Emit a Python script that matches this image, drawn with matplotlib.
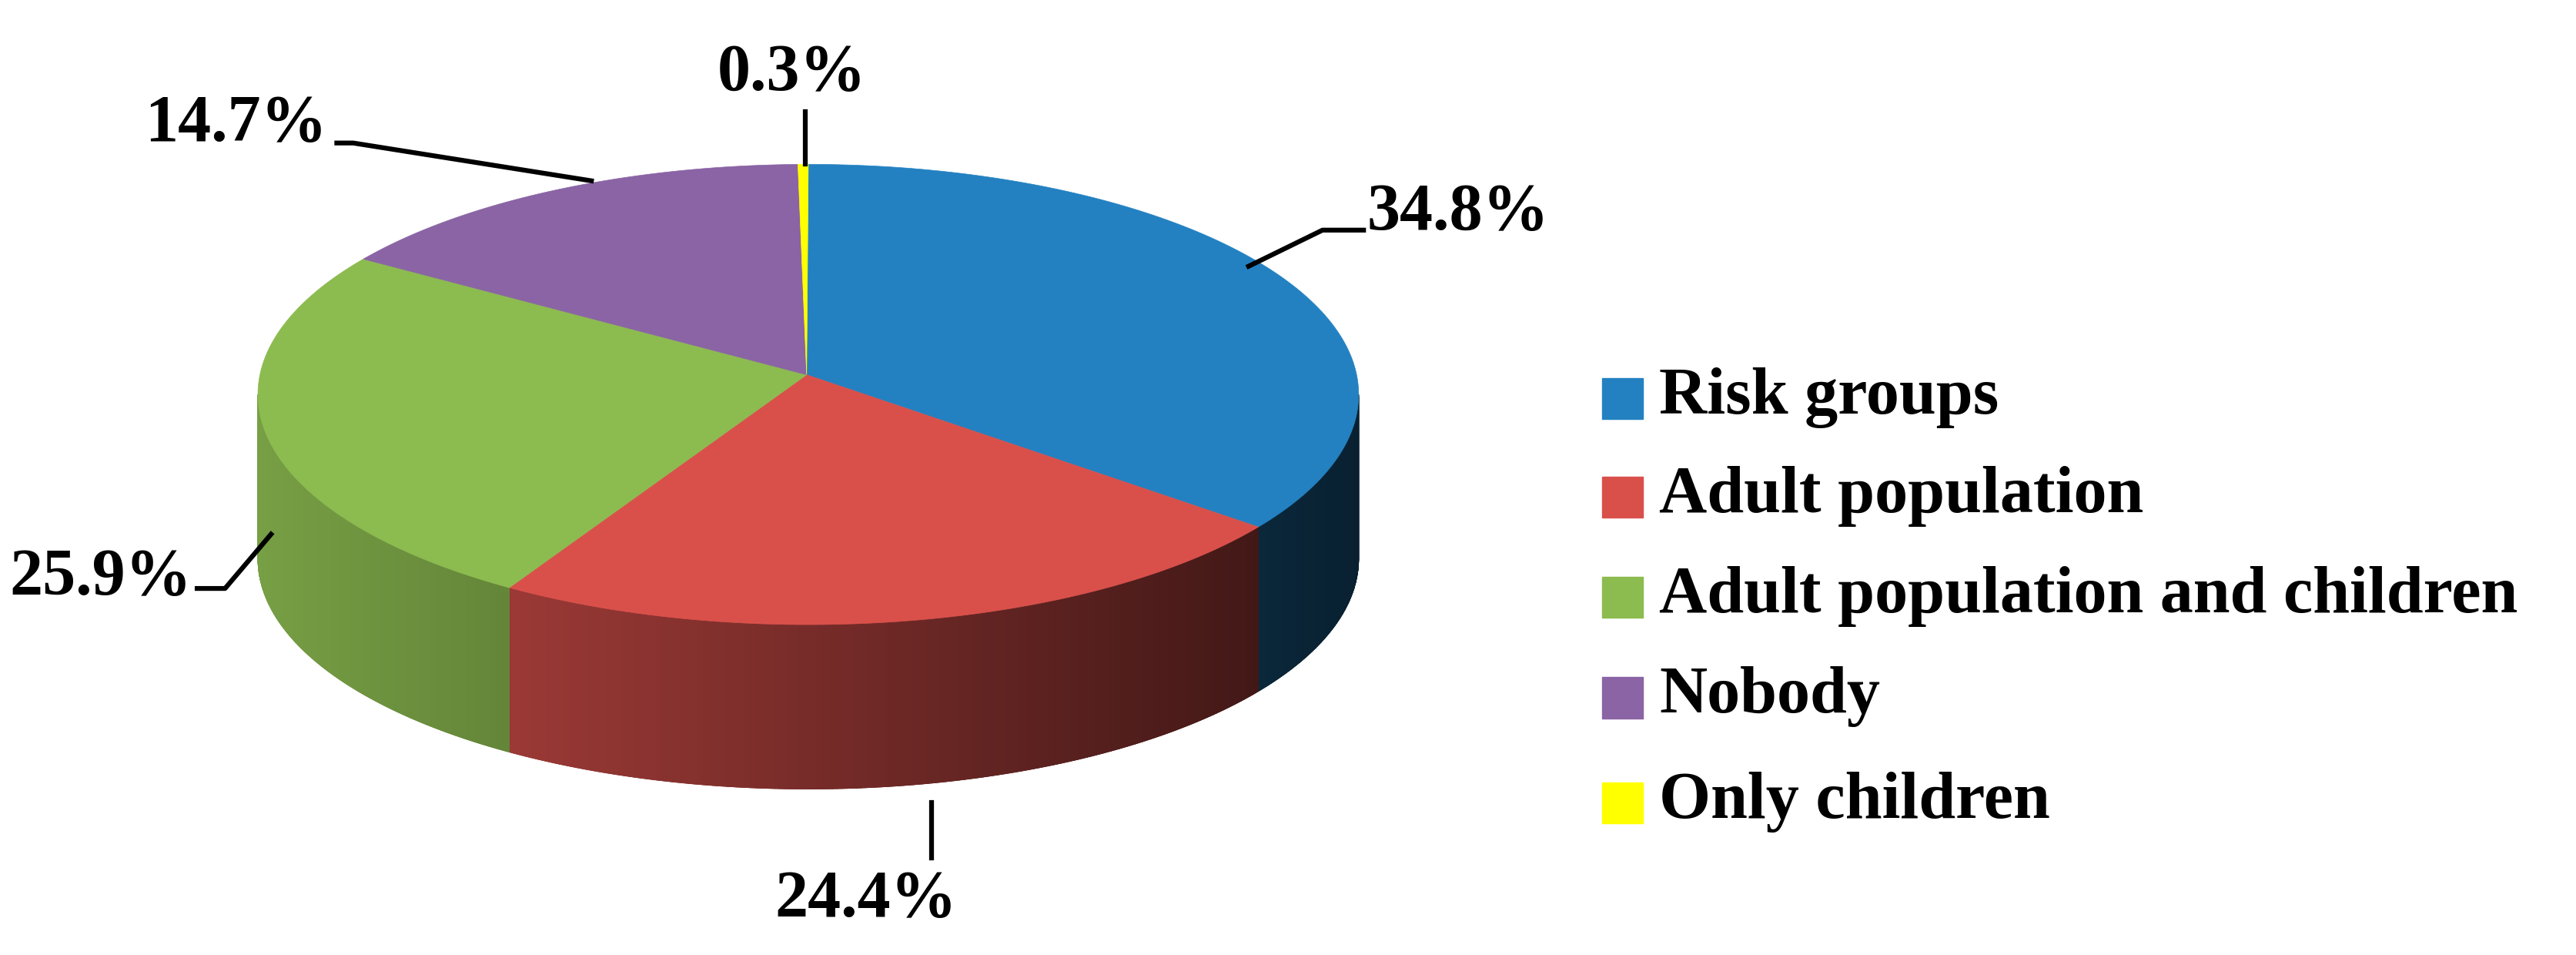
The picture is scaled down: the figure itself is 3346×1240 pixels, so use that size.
import numpy as np
import matplotlib
matplotlib.use("Agg")
import matplotlib.pyplot as plt
from matplotlib.colors import to_rgb

categories = ["Risk groups", "Adult population", "Adult population and children", "Nobody", "Only children"]
values = [34.8, 24.4, 25.9, 14.7, 0.3]
labels = ["34.8%", "24.4%", "25.9%", "14.7%", "0.3%"]
colors = ["#2381C1", "#D9504B", "#8CBB50", "#8A64A4", "#FFFF00"]

fig = plt.figure(figsize=(33.46, 12.4), dpi=100)
ax = fig.add_axes([0, 0, 1, 1])
ax.set_xlim(0, 1568)
ax.set_ylim(581, 0)
ax.axis("off")

cx, cy, rx, ry, depth = 492, 240, 335, 140, 100
vx, vy = 491, 228
total = sum(values)

def pt(theta_deg):
    t = np.radians(theta_deg)
    return cx + rx * np.cos(t), cy - ry * np.sin(t)

ranges = []
cum = 0
for v in values:
    a0 = 90 - cum / total * 360
    cum += v
    a1 = 90 - cum / total * 360
    ranges.append((a1, a0))

for (a1, a0), c in zip(ranges, colors):
    base = np.array(to_rgb(c))
    for shift in (0, 360, -360):
        l, h = a1 + shift, a0 + shift
        for ss, ee in ((max(l, 180), min(h, 360)), (max(l, -180), min(h, 0))):
            if ee > ss:
                ths = np.linspace(ss, ee, int((ee - ss) * 2) + 2)
                for i in range(len(ths) - 1):
                    xa, ya = pt(ths[i]); xb, yb = pt(ths[i + 1])
                    xn = ((xa + xb) / 2 - (cx - rx)) / (2 * rx)
                    f = 0.85 - 0.6 * xn
                    col = np.clip(base * f, 0, 1)
                    ax.fill([xa, xb, xb, xa], [ya, yb, yb + depth, ya + depth],
                            color=col, lw=0.6, ec=col)

for (a1, a0), c in zip(ranges, colors):
    ths = np.linspace(a1, a0, max(int((a0 - a1) * 3), 3))
    xs = [vx] + [pt(t)[0] for t in ths]
    ys = [vy] + [pt(t)[1] for t in ths]
    ax.fill(xs, ys, color=c, lw=0.5, ec=c)

font = dict(family="Liberation Serif", fontweight="bold", fontsize=62)
lines = [
    ([760, 805, 830], [162, 140, 140], 832, 130, "left"),
    ([567, 567], [488, 522], 527, 548, "center"),
    ([165, 137, 120], [325, 358, 358], 117, 352, "right"),
    ([360, 215, 205], [110, 87, 87], 199, 76, "right"),
    ([490, 490], [100, 68], 482, 45, "center"),
]
for (xs, ys, tx, ty, ha), lab in zip(lines, labels):
    ax.plot(xs, ys, color="black", lw=4.5)
    ax.text(tx, ty, lab, ha=ha, va="center", **font)

ly = [242, 302, 363, 424, 488]
for y, c, name in zip(ly, colors, categories):
    ax.add_patch(plt.Rectangle((975, y - 12), 25, 25, color=c))
    ax.text(1010, y, name, ha="left", va="center", **font)

fig.savefig("out.png", dpi=100)
